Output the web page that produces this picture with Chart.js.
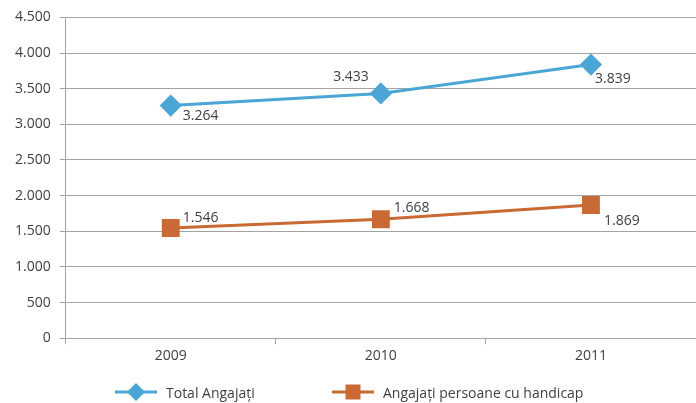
<!DOCTYPE html>
<html>
<head>
<meta charset="utf-8">
<script src="https://cdn.jsdelivr.net/npm/chart.js@4.4.1/dist/chart.umd.min.js"></script>
<style>
  html, body { margin: 0; padding: 0; background: #fff; overflow: hidden; }
  #wrap { position: relative; width: 696px; height: 403px; }
  #legend { position: absolute; left: 0; top: 382px; width: 696px; height: 20px;
            font: 14px "Open Sans", sans-serif; color: #404040; }
  .item { position: absolute; top: 0; display: flex; align-items: center; height: 20px; white-space: nowrap; }
  .item canvas { margin-right: 9px; }
</style>
</head>
<body>
<div id="wrap">
  <canvas id="angajatiChart"></canvas>
  <div id="legend"></div>
</div>
<script>
// data
const years = ['2009', '2010', '2011'];
const totalAngajati = [3264, 3433, 3839];
const angajatiHandicap = [1546, 1668, 1869];
const yTicks = [0, 500, 1000, 1500, 2000, 2500, 3000, 3500, 4000, 4500];

const blue = '#4ba6d6';
const orange = '#c96933';
const textColor = '#404040';
const gridColor = '#a3a3a3';
const fontFamily = '"Open Sans", sans-serif';

// where each value label sits relative to its point [dx, dy, align]
const labelPos = [
  [[12, 11, 'left'], [-12, -16, 'right'], [4, 14, 'left']],
  [[12, -10, 'left'], [13, -11, 'left'], [13, 16, 'left']]
];
// legend item left edges
const legendLeft = [115, 332];

function fmt(v) {
  return String(v).replace(/\B(?=(\d{3})+(?!\d))/g, '.');
}

// legend swatch: short line with the marker in the middle
function swatch(color, style) {
  const c = document.createElement('canvas');
  c.width = 42; c.height = 18;
  const g = c.getContext('2d');
  g.strokeStyle = color;
  g.lineWidth = 3;
  g.beginPath(); g.moveTo(0, 9); g.lineTo(42, 9); g.stroke();
  g.fillStyle = color;
  if (style === 'diamond') {
    g.beginPath();
    g.moveTo(21, 0); g.lineTo(30, 9); g.lineTo(21, 18); g.lineTo(12, 9);
    g.closePath(); g.fill();
  } else {
    g.fillRect(13.5, 1.5, 15, 15);
  }
  return c;
}

const valueLabels = {
  id: 'valueLabels',
  afterDatasetsDraw(chart) {
    const ctx = chart.ctx;
    ctx.save();
    ctx.font = '14px ' + fontFamily;
    ctx.fillStyle = textColor;
    ctx.textBaseline = 'middle';
    chart.data.datasets.forEach((ds, i) => {
      chart.getDatasetMeta(i).data.forEach((pt, j) => {
        const p = labelPos[i][j];
        ctx.textAlign = p[2];
        ctx.fillText(fmt(ds.data[j]), pt.x + p[0], pt.y + p[1]);
      });
    });
    ctx.restore();
  }
};

const ctx = document.getElementById('angajatiChart').getContext('2d');
const angajatiChart = new Chart(ctx, {
  type: 'line',
  data: {
    labels: years,
    datasets: [{
      label: 'Total Angajați',
      data: totalAngajati,
      borderColor: blue,
      backgroundColor: blue,
      borderWidth: 3,
      pointStyle: 'rectRot',
      pointRadius: 9,
      pointHoverRadius: 9,
      marker: 'diamond'
    }, {
      label: 'Angajați persoane cu handicap',
      data: angajatiHandicap,
      borderColor: orange,
      backgroundColor: orange,
      borderWidth: 3,
      pointStyle: 'rect',
      pointRadius: 10.5,
      pointHoverRadius: 10.5,
      marker: 'square'
    }]
  },
  options: {
    responsive: true,
    maintainAspectRatio: false,
    animation: false,
    layout: { autoPadding: false, padding: { top: 0, left: 6, right: 0, bottom: 36 } },
    plugins: {
      tooltip: { enabled: false },
      legend: { display: false }
    },
    scales: {
      x: {
        offset: true,
        grid: {
          offset: true,
          drawOnChartArea: false,
          drawTicks: true,
          tickLength: 6,
          color: gridColor
        },
        border: { color: gridColor, width: 1 },
        ticks: {
          color: textColor,
          padding: 3,
          font: { family: fontFamily, size: 14 }
        }
      },
      y: {
        min: 0,
        max: 4500,
        afterBuildTicks(axis) {
          axis.ticks = yTicks.map(v => ({ value: v }));
        },
        grid: {
          color: gridColor,
          tickLength: 6,
          lineWidth: 1
        },
        border: { color: gridColor, width: 1 },
        ticks: {
          color: textColor,
          padding: 9,
          font: { family: fontFamily, size: 14 },
          callback: v => fmt(v)
        }
      }
    }
  },
  plugins: [valueLabels]
});

// html legend under the chart
const legend = document.getElementById('legend');
angajatiChart.data.datasets.forEach((ds, i) => {
  const item = document.createElement('div');
  item.className = 'item';
  item.style.left = legendLeft[i] + 'px';
  item.appendChild(swatch(ds.borderColor, ds.marker));
  const span = document.createElement('span');
  span.textContent = ds.label;
  item.appendChild(span);
  legend.appendChild(item);
});
</script>
</body>
</html>
